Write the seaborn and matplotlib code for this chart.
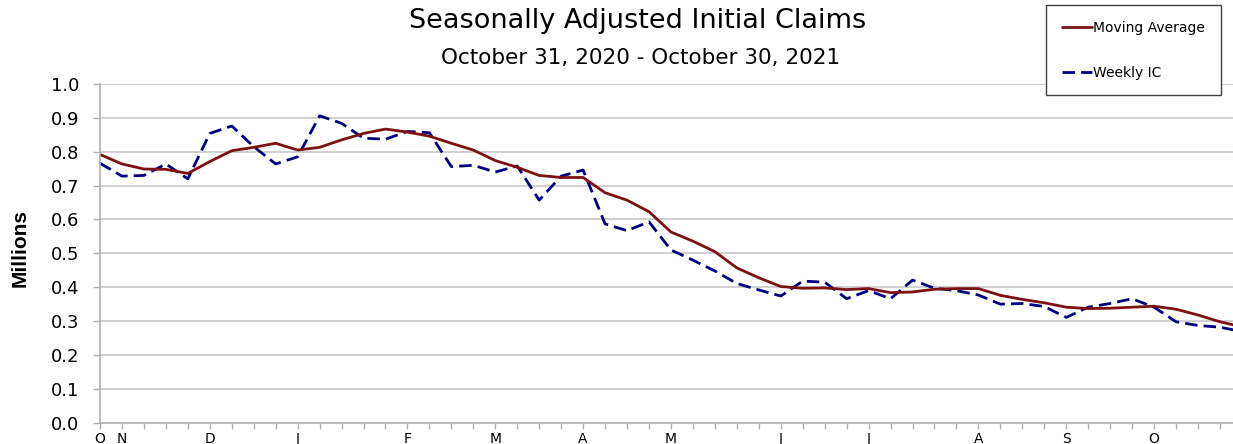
import pandas as pd
import matplotlib
matplotlib.use('Agg')
import matplotlib.pyplot as plt
from matplotlib.lines import Line2D
import seaborn as sns

################################################################################
# data (millions), one value per week from Oct 31, 2020

weeks = list(range(53))

moving_average = [
    0.792, 0.764, 0.749, 0.748, 0.736, 0.771, 0.803, 0.813, 0.825, 0.805,
    0.813, 0.835, 0.854, 0.867, 0.858, 0.846, 0.825, 0.805, 0.774, 0.754,
    0.730, 0.724, 0.724, 0.679, 0.657, 0.623, 0.563, 0.536, 0.505, 0.457,
    0.428, 0.402, 0.397, 0.398, 0.393, 0.396, 0.384, 0.386, 0.394, 0.396,
    0.396, 0.376, 0.364, 0.354, 0.341, 0.337, 0.338, 0.341, 0.344, 0.335,
    0.318, 0.298, 0.283,
]

weekly_ic = [
    0.766, 0.728, 0.730, 0.764, 0.720, 0.854, 0.876, 0.815, 0.764, 0.785,
    0.906, 0.884, 0.840, 0.837, 0.860, 0.856, 0.756, 0.760, 0.740, 0.758,
    0.657, 0.728, 0.746, 0.587, 0.567, 0.593, 0.510, 0.480, 0.448, 0.411,
    0.392, 0.374, 0.418, 0.415, 0.366, 0.390, 0.366, 0.421, 0.397, 0.390,
    0.377, 0.350, 0.352, 0.343, 0.311, 0.341, 0.352, 0.366, 0.341, 0.298,
    0.287, 0.282, 0.269,
]

# month initials placed at the first week of each month
month_weeks = [0, 1, 5, 9, 14, 18, 22, 26, 31, 35, 40, 44, 48]
month_labels = ['O', 'N', 'D', 'J', 'F', 'M', 'A', 'M', 'J', 'J', 'A', 'S', 'O']

y_ticks = [0.0, 0.1, 0.2, 0.3, 0.4, 0.5, 0.6, 0.7, 0.8, 0.9, 1.0]

series_names = ['Weekly IC', 'Moving Average']
series_colors = {'Moving Average': '#7b1111', 'Weekly IC': '#000080'}

################################################################################

claims = pd.concat([
    pd.DataFrame({'week': weeks, 'claims': weekly_ic, 'series': 'Weekly IC'}),
    pd.DataFrame({'week': weeks, 'claims': moving_average, 'series': 'Moving Average'}),
])

sns.set_style('white')
plt.rcParams['font.family'] = ['DejaVu Sans']
plt.rcParams['text.color'] = 'black'

fig = plt.figure(figsize = (12.33, 4.44), dpi = 100)
ax = fig.add_axes([100 / 1233, 21.3 / 444, 1133 / 1233, 338.7 / 444])

sns.lineplot(
    data = claims,
    x = 'week',
    y = 'claims',
    hue = 'series',
    style = 'series',
    hue_order = series_names,
    style_order = series_names,
    palette = series_colors,
    dashes = {'Weekly IC': (4.5, 2.2), 'Moving Average': ''},
    linewidth = 2.0,
    legend = False,
    ax = ax,
)

ax.set_xlim(0, 1133 / 21.96)
ax.set_ylim(0, 1.0)

ax.set_yticks(y_ticks)
ax.set_yticklabels([f'{t:.1f}' for t in y_ticks], fontsize = 13)
ax.set_xticks(weeks[:52])
ax.set_xticklabels(
    [month_labels[month_weeks.index(w)] if w in month_weeks else '' for w in weeks[:52]],
    fontsize = 10,
)

ax.tick_params(axis = 'y', length = 5, width = 1, color = '#b0b0b0', labelcolor = 'black',
               pad = 10, left = True)
ax.tick_params(axis = 'x', length = 4, width = 1, color = '#b0b0b0', labelcolor = 'black',
               pad = 3, bottom = True)

ax.grid(axis = 'y', color = '#c8c8c8', linewidth = 1.2)
ax.set_axisbelow(True)
for side in ['top', 'right']:
    ax.spines[side].set_visible(False)
for side in ['left', 'bottom']:
    ax.spines[side].set_color('#b0b0b0')
    ax.spines[side].set_linewidth(1.2)

ax.set_xlabel('')
ax.set_ylabel('')

fig.text(20 / 1233, 1 - 248 / 444, 'Millions', rotation = 90, fontsize = 15,
         fontweight = 'bold', family = 'Liberation Sans', ha = 'center', va = 'center')

fig.text(638 / 1233, 1 - 21 / 444, 'Seasonally Adjusted Initial Claims',
         fontsize = 19.5, ha = 'center', va = 'center')
fig.text(641 / 1233, 1 - 58 / 444, 'October 31, 2020 - October 30, 2021',
         fontsize = 15.5, ha = 'center', va = 'center')

handles = [
    Line2D([], [], color = series_colors['Moving Average'], linewidth = 2.0),
    Line2D([], [], color = series_colors['Weekly IC'], linewidth = 2.0, dashes = (4.5, 2.2)),
]
leg = fig.legend(
    handles,
    ['Moving Average', 'Weekly IC'],
    loc = 'upper left',
    bbox_to_anchor = (1046 / 1233, 1 - 5 / 444),
    borderaxespad = 0,
    borderpad = 1.15,
    labelspacing = 2.2,
    handlelength = 2.15,
    handletextpad = 0.1,
    fontsize = 10,
    fancybox = False,
    framealpha = 1,
    edgecolor = '#404040',
)
leg.get_frame().set_linewidth(1.0)

fig.savefig('out.png', dpi = 100)
